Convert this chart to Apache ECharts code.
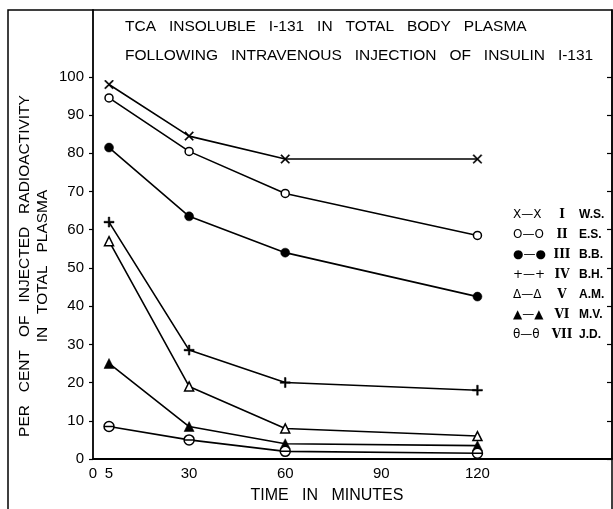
<!DOCTYPE html>
<html lang="en">
<head>
    <meta charset="UTF-8"/>
    <title>TCA Insoluble I-131 in Total Body Plasma</title>
    <style>
        html, body {
            margin: 0;
            padding: 0;
            width: 100vw;
            height: 100vh;
            background: #ffffff;
            overflow: hidden;
        }

        #chart {
            width: 613px;
            height: 509px;
        }
    </style>
</head>
<body>
<div id="chart"></div>
<script src="https://cdn.jsdelivr.net/npm/echarts@6/dist/echarts.min.js"></script>
<script>
    const chart = echarts.init(document.getElementById('chart'));

    // minutes after injection
    const times = [5, 30, 60, 120];
    const xTicks = [0, 5, 30, 60, 90, 120];
    const yTicks = [0, 10, 20, 30, 40, 50, 60, 70, 80, 90, 100];

    // per cent of injected radioactivity, one array per subject
    const ws = [98, 84.5, 78.5, 78.5];
    const es = [94.5, 80.5, 69.5, 58.5];
    const bb = [81.5, 63.5, 54, 42.5];
    const bh = [62, 28.5, 20, 18];
    const am = [57, 19, 8, 6];
    const mv = [25, 8.5, 4, 3.5];
    const jd = [8.5, 5, 2, 1.5];

    const patients = ['W.S.', 'E.S.', 'B.B.', 'B.H.', 'A.M.', 'M.V.', 'J.D.'];
    const romans = ['I', 'II', 'III', 'IV', 'V', 'VI', 'VII'];
    const legendMarks = ['X\u2014X', 'O\u2014O', '\u25CF\u2014\u25CF', '+\u2014+', '\u0394\u2014\u0394', '\u25B2\u2014\u25B2', '\u03B8\u2014\u03B8'];
    const values = [ws, es, bb, bh, am, mv, jd];

    const font = 'Liberation Sans, Arial, sans-serif';

    // marker look for each subject
    const marks = [
        {symbol: 'path://M0,1L1,0L5,4L9,0L10,1L6,5L10,9L9,10L5,6L1,10L0,9L4,5Z', size: 9, fill: '#000'},
        {symbol: 'circle', size: 8, fill: '#fff'},
        {symbol: 'circle', size: 9, fill: '#000'},
        {symbol: 'path://M4.2,0H5.8V4.2H10V5.8H5.8V10H4.2V5.8H0V4.2H4.2Z', size: 10, fill: '#000'},
        {symbol: 'triangle', size: 9, fill: '#fff'},
        {symbol: 'triangle', size: 10, fill: '#000'},
        {symbol: 'path://M5,0A4,5,0,1,1,5,10A4,5,0,1,1,5,0ZM1,5L9,5', size: 10, fill: '#fff'}
    ];

    function makeSeries(name, data, mark) {
        return {
            name: name,
            type: 'line',
            data: data.map((v, i) => [times[i], v]),
            symbol: mark.symbol,
            symbolSize: mark.size,
            showAllSymbol: true,
            lineStyle: {color: '#000', width: 1.6},
            itemStyle: {
                color: mark.fill,
                borderColor: '#000',
                borderWidth: mark.fill === '#fff' ? 1.5 : 0.5
            },
            emphasis: {disabled: true},
            z: 3
        };
    }

    const option = {
        backgroundColor: '#ffffff',
        animation: false,
        textStyle: {fontFamily: font, color: '#000'},
        title: {
            text: 'TCA   INSOLUBLE   I-131   IN   TOTAL   BODY   PLASMA\nFOLLOWING   INTRAVENOUS   INJECTION   OF   INSULIN   I-131',
            left: 120,
            top: 7,
            textStyle: {
                fontFamily: font,
                fontSize: 15.5,
                fontWeight: 'normal',
                lineHeight: 29,
                color: '#000'
            }
        },
        legend: {
            orient: 'vertical',
            left: 500,
            top: 204,
            icon: 'rect',
            itemWidth: 2,
            itemHeight: 2,
            itemGap: 8,
            itemStyle: {opacity: 0},
            lineStyle: {opacity: 0},
            selectedMode: false,
            data: patients,
            formatter: name => {
                const i = patients.indexOf(name);
                return `{m|${legendMarks[i]}}{r|${romans[i]}}{n|${name}}`;
            },
            textStyle: {
                rich: {
                    m: {width: 39, fontSize: 12, fontFamily: 'DejaVu Sans', lineHeight: 14, color: '#000'},
                    r: {width: 20, align: 'right', fontSize: 12, fontWeight: 'bold', fontFamily: 'DejaVu Serif', lineHeight: 14, color: '#000'},
                    n: {padding: [0, 0, 0, 7], fontSize: 12, fontWeight: 'bold', fontFamily: font, lineHeight: 14, color: '#000'}
                }
            }
        },
        grid: {
            left: 93,
            right: 1,
            top: 10,
            bottom: 49
        },
        xAxis: {
            type: 'value',
            min: 0,
            max: 162,
            name: 'TIME   IN   MINUTES',
            nameLocation: 'middle',
            nameGap: 29,
            nameTextStyle: {fontSize: 16, color: '#000', padding: [0, 51, 0, 0]},
            axisLine: {lineStyle: {color: '#000', width: 1.8}},
            axisTick: {show: false},
            splitLine: {show: false},
            axisLabel: {
                customValues: xTicks,
                fontSize: 15,
                color: '#000',
                margin: 7
            }
        },
        yAxis: [
            {
                type: 'value',
                min: 0,
                max: 117.5,
                interval: 10,
                axisLine: {show: true, lineStyle: {color: '#000', width: 1.8}},
                axisTick: {show: true, customValues: yTicks, length: 4, lineStyle: {color: '#000', width: 1.2}},
                splitLine: {show: false},
                axisLabel: {
                    customValues: yTicks,
                    fontSize: 15,
                    color: '#000',
                    margin: 9,
                    padding: [0, 0, 8, 0]
                }
            },
            {
                type: 'value',
                position: 'right',
                min: 0,
                max: 117.5,
                interval: 10,
                axisLine: {show: true, lineStyle: {color: '#000', width: 1.5}},
                axisTick: {show: true, inside: true, customValues: yTicks, length: 5, lineStyle: {color: '#000', width: 1.2}},
                axisLabel: {show: false},
                splitLine: {show: false}
            }
        ],
        graphic: [
            {
                type: 'rect',
                shape: {x: 8, y: 10, width: 604, height: 520},
                style: {fill: null, stroke: '#000', lineWidth: 1.5},
                silent: true
            },
            {
                type: 'text',
                x: 34,
                y: 266,
                rotation: Math.PI / 2,
                style: {
                    text: 'PER   CENT   OF   INJECTED   RADIOACTIVITY\nIN   TOTAL   PLASMA',
                    font: '15.5px ' + font,
                    lineHeight: 18,
                    textAlign: 'center',
                    textVerticalAlign: 'middle',
                    fill: '#000'
                },
                silent: true
            }
        ],
        series: patients.map((p, i) => makeSeries(p, values[i], marks[i]))
    };

    chart.setOption(option);

    window.addEventListener('resize', () => {
        chart.resize();
    });
</script>
</body>
</html>
